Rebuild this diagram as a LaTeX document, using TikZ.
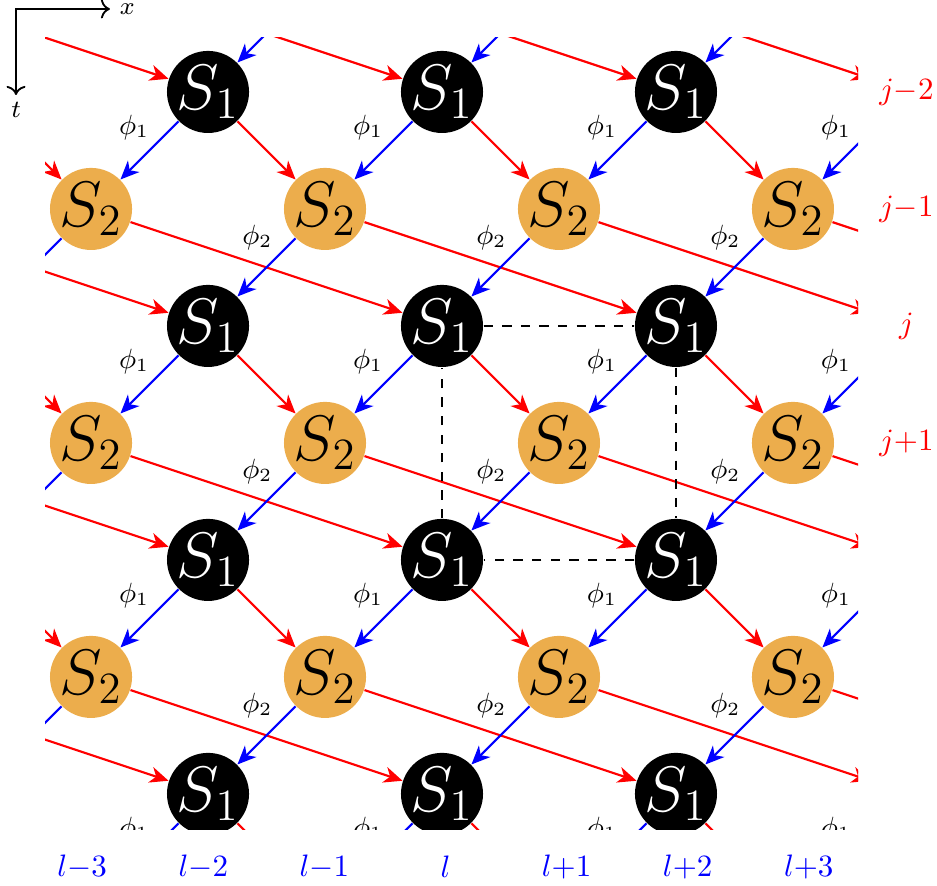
\documentclass[tikz,border=0pt]{standalone}
\usepackage{tikz}
\usetikzlibrary{arrows.meta, positioning}
\definecolor{sorange}{RGB}{236,173,76}

\begin{document}
\begin{tikzpicture}[x=1.326cm, y=-1.326cm,
    sone/.style={circle, fill=black, text=white, minimum size=0.93cm,
                 inner sep=0pt, font=\huge},
    stwo/.style={sone, fill=sorange, text=black},
    rd/.style={-{Stealth[length=6pt, width=5.2pt, inset=1.8pt]}, draw=red, line width=0.7pt},
    bl/.style={rd, draw=blue},
    phi/.style={above left, font=\small, inner sep=1.5pt},
    dsh/.style={dashed, semithick},
    rowlab/.style={text=red},
    collab/.style={text=blue}
]
\useasboundingbox (-3.778,-2.786) rectangle (4.231,4.786);

\begin{scope}
\clip (-3.393,-2.462) rectangle (3.556,4.308);
% lattice sites
\foreach \i in {-6,-4,...,6}
  \foreach \k in {-4,-2,...,6}
    \node[sone] (A\i\k) at (\i,\k) {$S_1$};
\foreach \i in {-5,-3,...,5}
  \foreach \k in {-3,-1,...,5}
    \node[stwo] (B\i\k) at (\i,\k) {$S_2$};
% couplings around every S_2 site
\foreach \i in {-5,-3,...,3}
  \foreach \k in {-3,-1,...,5} {
    \pgfmathtruncatemacro\il{\i-1}
    \pgfmathtruncatemacro\ir{\i+1}
    \pgfmathtruncatemacro\ifar{\i+3}
    \pgfmathtruncatemacro\ku{\k-1}
    \pgfmathtruncatemacro\kd{\k+1}
    \draw[rd] (A\il\ku) -- (B\i\k);
    \draw[bl] (A\ir\ku) -- node[phi, pos=0.41] {$\phi_1$} (B\i\k);
    \draw[bl] (B\i\k) -- node[phi, pos=0.3] {$\phi_2$} (A\il\kd);
    \draw[rd] (B\i\k) -- (A\ifar\kd);
  }
% unit cell
\draw[dsh] (A00) -- (A20);
\draw[dsh] (A20) -- (A22);
\draw[dsh] (A22) -- (A02);
\draw[dsh] (A02) -- (A00);
\end{scope}

% axes
\coordinate (o) at (-3.641,-2.709);
\coordinate (xe) at (-2.838,-2.709);
\coordinate (te) at (-3.641,-1.974);
\draw[<->, semithick] (xe) -- (o) -- (te);
\node[right=2pt of xe, font=\footnotesize, inner sep=1pt] (xl) {$x$};
\node[below=1pt of te, font=\footnotesize, inner sep=1pt] (tl) {$t$};

% row and column labels
\foreach \k/\t in {-2/{j{-}2}, -1/{j{-}1}, 0/{j}, 1/{j{+}1}}
  \node[rowlab] (row\k) at (3.97,\k) {$\t$};
\foreach \i/\t in {-3/{l{-}3}, -2/{l{-}2}, -1/{l{-}1}, 0/{l}, 1/{l{+}1}, 2/{l{+}2}, 3/{l{+}3}}
  \node[collab] (col\i) at ({1.035*\i+0.03},4.624) {$\t$};
\end{tikzpicture}
\end{document}
